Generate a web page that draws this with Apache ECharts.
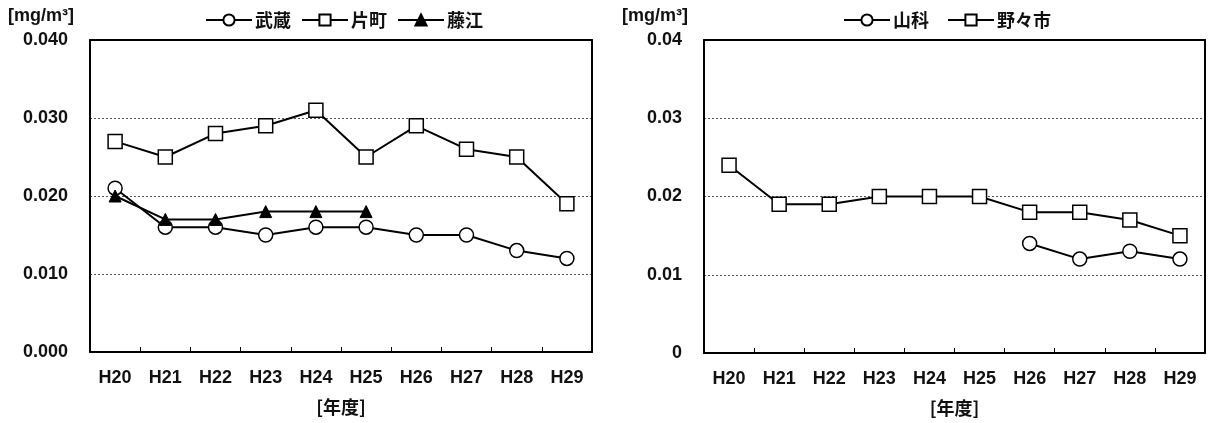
<!DOCTYPE html>
<html><head><meta charset="utf-8">
<script src="https://cdn.jsdelivr.net/npm/echarts@6/dist/echarts.min.js"></script>
<style>html,body{margin:0;padding:0;background:#fff}#c{width:1208px;height:423px}</style>
</head><body><div id="c"></div>
<script>
const years = ['H20','H21','H22','H23','H24','H25','H26','H27','H28','H29'];
const musashi = [0.021,0.016,0.016,0.015,0.016,0.016,0.015,0.015,0.013,0.012];
const katamachi = [0.027,0.025,0.028,0.029,0.031,0.025,0.029,0.026,0.025,0.019];
const fujie = [0.020,0.017,0.017,0.018,0.018,0.018,null,null,null,null];
const yamashina = [null,null,null,null,null,null,0.014,0.012,0.013,0.012];
const nonoichi = [0.024,0.019,0.019,0.020,0.020,0.020,0.018,0.018,0.017,0.015];
const leftTicks = ['0.000','0.010','0.020','0.030','0.040'];
const rightTicks = ['0','0.01','0.02','0.03','0.04'];

const NUMFONT = '"Liberation Sans", Arial, sans-serif';
const CJKFONT = '"Noto Sans CJK JP", sans-serif';
const numTxt = {color:'#111', fontFamily:NUMFONT, fontSize:18, fontWeight:'bold'};
const cjkTxt = {color:'#111', fontFamily:CJKFONT, fontSize:18, fontWeight:'bold'};
const chart = echarts.init(document.getElementById('c'));

function xAxis(i){
  return {type:'category', gridIndex:i, data:years, boundaryGap:true,
    axisLine:{onZero:false, lineStyle:{color:'#000', width:2}},
    axisTick:{show:true, inside:true, length:5, lineStyle:{color:'#000', width:1}},
    axisLabel:Object.assign({margin:17}, numTxt),
    name:'[年度]', nameLocation:'middle', nameGap:55, nameTextStyle:Object.assign({verticalAlign:'middle', lineHeight:20}, cjkTxt)};
}
function xTop(i){
  return {type:'category', gridIndex:i, data:years, position:'top',
    axisLine:{show:true, onZero:false, lineStyle:{color:'#000', width:2}}, axisTick:{show:false}, axisLabel:{show:false}, splitLine:{show:false}};
}
function yAxis(i, ticks){
  return {type:'value', gridIndex:i, min:0, max:0.04, interval:0.01,
    axisLine:{show:true, onZero:false, lineStyle:{color:'#000', width:2}},
    axisTick:{show:false},
    axisLabel:Object.assign({margin:22, formatter:(v)=>ticks[Math.round(v/0.01)]}, numTxt),
    splitLine:{show:true, lineStyle:{color:'#555', type:[2,2], width:1}}};
}
function yRight(i){
  return {type:'value', gridIndex:i, min:0, max:0.04, interval:0.01, position:'right',
    axisLine:{show:true, onZero:false, lineStyle:{color:'#000', width:2}}, axisTick:{show:false}, axisLabel:{show:false}, splitLine:{show:false}};
}
const lineBase = {type:'line', color:'#000', lineStyle:{color:'#000', width:2},
  connectNulls:false, animation:false};
function circ(name, data, xi){ return Object.assign({}, lineBase, {name, data, xAxisIndex:xi, yAxisIndex:xi,
  symbol:'circle', symbolSize:14, itemStyle:{color:'#fff', borderColor:'#000', borderWidth:1.5}}); }
function sq(name, data, xi){ return Object.assign({}, lineBase, {name, data, xAxisIndex:xi, yAxisIndex:xi,
  symbol:'rect', symbolSize:14, itemStyle:{color:'#fff', borderColor:'#000', borderWidth:1.5}}); }
function tri(name, data, xi){ return Object.assign({}, lineBase, {name, data, xAxisIndex:xi, yAxisIndex:xi,
  symbol:'triangle', symbolSize:12, itemStyle:{color:'#000', borderColor:'#000', borderWidth:1}}); }

chart.setOption({
  animation:false,
  backgroundColor:'#fff',
  grid:[
    {left:90, right:616, top:40, bottom:71, outerBoundsMode:'none', containLabel:false},
    {left:704, right:3, top:40, bottom:70, outerBoundsMode:'none', containLabel:false}
  ],
  legend:[
    {data:['武蔵','片町','藤江'], left:200, top:6, itemWidth:46, itemHeight:14, itemGap:10, textStyle:Object.assign({padding:[0,0,0,-2]}, cjkTxt)},
    {data:['山科','野々市'], left:838, top:6, itemWidth:46, itemHeight:14, itemGap:18, textStyle:Object.assign({padding:[0,0,0,-2]}, cjkTxt)}
  ],
  graphic:[
    {type:'text', left:8, top:7, style:{text:'[mg/m³]', font:'bold 18px '+NUMFONT, fill:'#111'}},
    {type:'text', left:622, top:7, style:{text:'[mg/m³]', font:'bold 18px '+NUMFONT, fill:'#111'}}
  ],
  xAxis:[xAxis(0), xAxis(1), xTop(0), xTop(1)],
  yAxis:[yAxis(0, leftTicks), yAxis(1, rightTicks), yRight(0), yRight(1)],
  series:[
    circ('武蔵', musashi, 0),
    sq('片町', katamachi, 0),
    tri('藤江', fujie, 0),
    circ('山科', yamashina, 1),
    sq('野々市', nonoichi, 1)
  ]
});
</script></body></html>
